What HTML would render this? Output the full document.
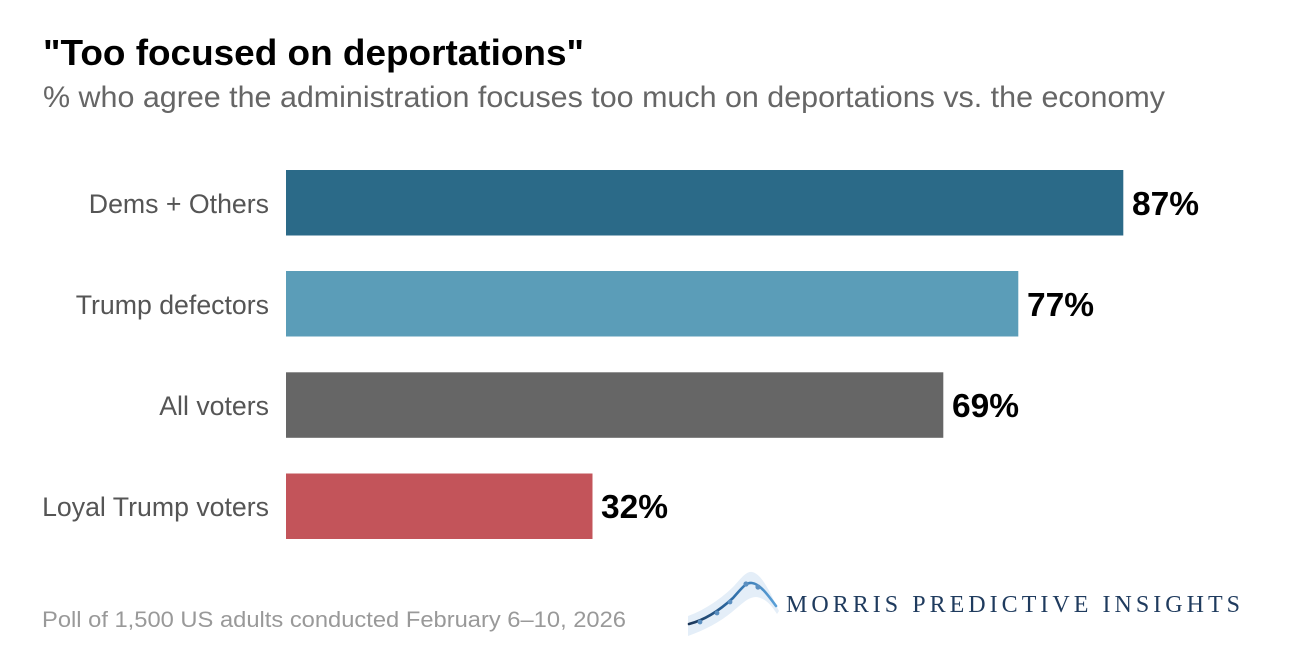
<!DOCTYPE html>
<html>
<head>
<meta charset="utf-8">
<style>
  html, body { margin: 0; padding: 0; background: #ffffff; }
  body { width: 1304px; height: 650px; overflow: hidden; }
  svg { display: block; }
</style>
</head>
<body>
<svg width="1304" height="650" viewBox="0 0 1304 650" xmlns="http://www.w3.org/2000/svg" style="font-family: 'Liberation Sans', Arial, Helvetica, sans-serif;">
  <defs>
    <linearGradient id="lg" x1="0" y1="0" x2="1" y2="0">
      <stop offset="0" stop-color="#1b3658"/>
      <stop offset="0.5" stop-color="#2f6ea8"/>
      <stop offset="1" stop-color="#5aa0d8"/>
    </linearGradient>
  </defs>

  <!-- Title -->
  <text x="43" y="65" font-size="36" font-weight="bold" fill="#000" textLength="541" lengthAdjust="spacingAndGlyphs">"Too focused on deportations"</text>
  <!-- Subtitle -->
  <text x="43" y="107" font-size="29.5" fill="#666666" textLength="1122" lengthAdjust="spacingAndGlyphs">% who agree the administration focuses too much on deportations vs. the economy</text>

  <!-- Bars -->
  <rect x="286" y="170" width="837.3" height="65.5" fill="#2b6a88"/>
  <rect x="286" y="271" width="732.3" height="65.5" fill="#5b9db8"/>
  <rect x="286" y="372.3" width="657.3" height="65.5" fill="#666666"/>
  <rect x="286" y="473.5" width="306.5" height="65.5" fill="#c3545a"/>

  <!-- Category labels -->
  <g font-size="26.7" fill="#555555" text-anchor="end">
    <text x="269" y="213">Dems + Others</text>
    <text x="269" y="314">Trump defectors</text>
    <text x="269" y="415">All voters</text>
    <text x="269" y="516">Loyal Trump voters</text>
  </g>

  <!-- Value labels -->
  <g font-size="33.5" font-weight="bold" fill="#000">
    <text x="1132" y="215">87%</text>
    <text x="1027" y="316">77%</text>
    <text x="952" y="417">69%</text>
    <text x="601" y="518">32%</text>
  </g>

  <!-- Footer -->
  <text x="42" y="627" font-size="22.5" fill="#999999" textLength="584" lengthAdjust="spacingAndGlyphs">Poll of 1,500 US adults conducted February 6–10, 2026</text>

  <!-- Logo icon -->
  <path d="M688,616 C705,610 722,598 734,586 C742,577 747,571 752,572 C762,574 770,592 779,611 L777,614 C770,603 764,598 756,597 C748,597 742,604 732,612 C720,622 705,630 688,636 Z" fill="#e4eef8"/>
  <path d="M689,624 C705,620 720,610 733,598 C742,588 746,582 752,583 C760,584 768,595 776,606" fill="none" stroke="url(#lg)" stroke-width="2.6" stroke-linecap="round"/>
  <g fill="#5b8fc0">
    <circle cx="700" cy="622" r="2.4"/>
    <circle cx="717" cy="613" r="2.4"/>
    <circle cx="730" cy="602" r="2.4"/>
    <circle cx="746" cy="584" r="2.6"/>
    <circle cx="758" cy="587" r="2.6"/>
  </g>

  <!-- Logo text -->
  <text x="786" y="612" style="font-family: 'Liberation Serif', 'Times New Roman', serif; font-size: 24px;" fill="#1f3b5e" textLength="454" lengthAdjust="spacing">MORRIS PREDICTIVE INSIGHTS</text>
</svg>
</body>
</html>
